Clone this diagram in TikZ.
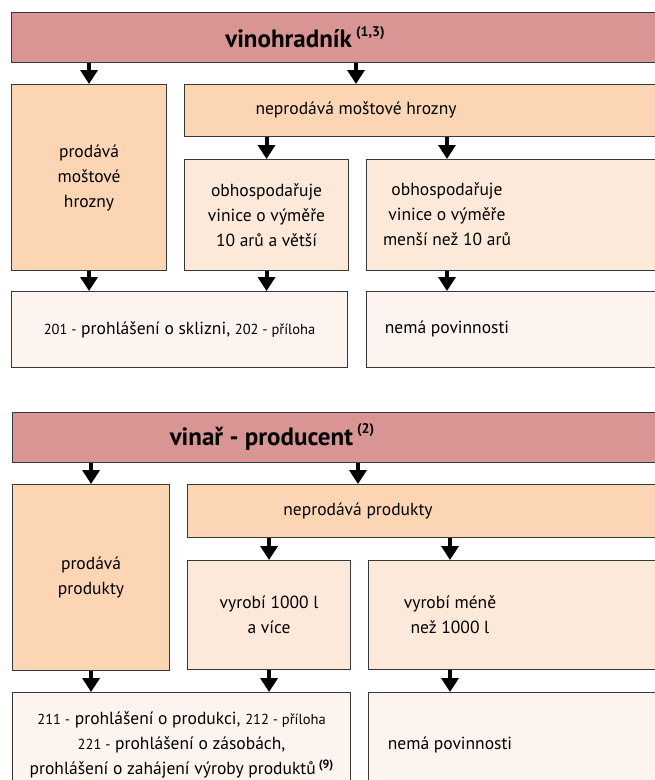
\documentclass[tikz,border=0pt]{standalone}
\usepackage{fontspec}
\setmainfont{PT Sans}
\usetikzlibrary{arrows.meta}
\definecolor{hdrpink}{HTML}{D99594}
\definecolor{peachA}{HTML}{FCD5B5}
\definecolor{peachB}{HTML}{FDE9D9}
\definecolor{peachC}{HTML}{FDF4F0}
\newcommand{\sm}[1]{{\fontsize{14.5}{25}\selectfont #1}}
\newcommand{\upnote}[1]{\raisebox{0.75ex}{\fontsize{12}{12}\selectfont\bfseries #1}}
\newcommand{\hdrnote}[1]{\raisebox{0.9ex}{\fontsize{14}{14}\selectfont\bfseries #1}}
\tikzset{
 box/.style={draw=black!78, line width=1.1pt, anchor=north west, inner sep=0pt, align=center, font=\fontsize{17.5}{25}\selectfont},
 hdrbox/.style={box, fill=hdrpink},
 lvlA/.style={box, fill=peachA},
 lvlB/.style={box, fill=peachB},
 lvlC/.style={box, fill=peachC},
 lbl/.style={inner sep=0pt, align=center, font=\fontsize{17.5}{25}\selectfont},
 hdrlbl/.style={inner sep=0pt, font=\fontsize{25}{30}\selectfont\bfseries},
 down/.style={line width=4pt, -{Triangle[width=17pt,length=14pt]}}
}

\begin{document}
\begin{tikzpicture}[x=1pt,y=-1pt]
\clip (0,0) rectangle (655,780);
\fill[white] (0,0) rectangle (655,780);

% vinohradnik
\node[hdrbox, minimum width=700, minimum height=50] (vin) at (11,12) {};
\node[hdrlbl] (vinT) at (305,37) {vinohradník\,\hdrnote{(1,3)}};
\node[lvlA, minimum width=155, minimum height=186] (prodA) at (11,84) {prodává\\moštové\\hrozny};
\node[lvlA, minimum width=600, minimum height=52] (neprodA) at (184,84) {};
\node[lbl] (neprodAT) at (356,110) {neprodává moštové hrozny};
\node[lvlB, minimum width=164, minimum height=111] (obhA) at (184,159) {obhospodařuje\\vinice o výměře\\10 arů a větší};
\node[lvlB, minimum width=400, minimum height=111] (obhB) at (366,159) {};
\node[lbl] (obhBT) at (447,214.5) {obhospodařuje\\vinice o výměře\\menší než 10 arů};
\node[lvlC, minimum width=336, minimum height=76] (formA) at (11,291) {\sm{201 -} prohlášení o sklizni, \sm{202 - příloha}};
\node[lvlC, minimum width=400, minimum height=76] (nemaA) at (366,291) {};
\node[lbl] (nemaAT) at (447,329) {nemá povinnosti};

\draw[down] (vin.south -| prodA) -- (prodA.north);
\draw[down] (vin.south -| neprodAT) -- (neprodA.north -| neprodAT);
\draw[down] (neprodA.south -| obhA) -- (obhA.north);
\draw[down] (neprodA.south -| obhBT) -- (obhB.north -| obhBT);
\draw[down] (prodA.south) -- (prodA.south |- formA.north);
\draw[down] (obhA.south) -- (obhA.south |- formA.north);
\draw[down] (obhB.south -| obhBT) -- (nemaA.north -| obhBT);

% vinar - producent
\node[hdrbox, minimum width=700, minimum height=50] (vinar) at (12,412) {};
\node[hdrlbl] (vinarT) at (272,437) {vinař - producent\,\hdrnote{(2)}};
\node[lvlA, minimum width=157, minimum height=186] (prodB) at (12,484) {prodává\\produkty};
\node[lvlA, minimum width=600, minimum height=53] (neprodB) at (187,484) {};
\node[lbl] (neprodBT) at (358,510.5) {neprodává produkty};
\node[lvlB, minimum width=163, minimum height=109] (vyrA) at (187,560) {vyrobí 1000 l\\a více};
\node[lvlB, minimum width=400, minimum height=109] (vyrB) at (368,560) {};
\node[lbl] (vyrBT) at (450,614.5) {vyrobí méně\\než 1000 l};
\node[lvlC, minimum width=338, minimum height=105] (formB) at (12,692) {\sm{211 -} prohlášení o produkci, \sm{212 - příloha}\\\sm{221 -} prohlášení o zásobách,\\prohlášení o zahájení výroby produktů\,\upnote{(9)}};
\node[lvlC, minimum width=400, minimum height=105] (nemaB) at (368,692) {};
\node[lbl] (nemaBT) at (450,744.5) {nemá povinnosti};

\draw[down] (vinar.south -| prodB) -- (prodB.north);
\draw[down] (vinar.south -| neprodBT) -- (neprodB.north -| neprodBT);
\draw[down] (neprodB.south -| vyrA) -- (vyrA.north);
\draw[down] (neprodB.south -| vyrBT) -- (vyrB.north -| vyrBT);
\draw[down] (prodB.south) -- (prodB.south |- formB.north);
\draw[down] (vyrA.south) -- (vyrA.south |- formB.north);
\draw[down] (vyrB.south -| vyrBT) -- (nemaB.north -| vyrBT);
\end{tikzpicture}
\end{document}
